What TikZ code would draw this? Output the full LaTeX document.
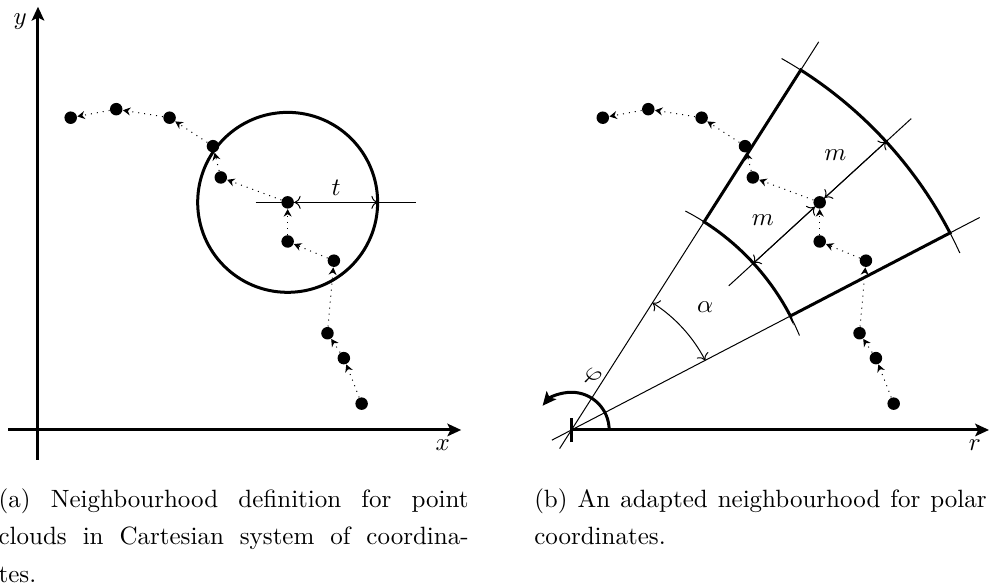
\documentclass[tikz,border=0pt]{standalone}
\usetikzlibrary{arrows.meta,calc}

\begin{document}
\begin{tikzpicture}[
    pnt/.style={circle, fill=black, inner sep=0pt, minimum size=5pt},
    trail/.style={dotted, thin, -{Stealth[length=3pt,width=3.2pt]}},
    bold/.style={line width=1.2pt},
    ax/.style={bold, -{Stealth[length=5.5pt,width=5pt,inset=1.2pt]}},
    meas/.style={thin, <->},
    subcap/.style={inner sep=0pt, anchor=north west, text width=188pt, align=justify,
                font=\fontsize{10}{15}\selectfont}
  ]
  \useasboundingbox (-0.534,-2.207) rectangle (13.384,6.045);

  % ---------- points (same track in both panels) --------------------------
  \foreach \i/\x/\y in {1/0.46/4.39, 2/1.10/4.51, 3/1.85/4.39, 4/2.46/3.99,
                        5/2.57/3.55, 6/3.51/3.20, 7/3.51/2.65, 8/4.16/2.38,
                        9/4.07/1.36, 10/4.30/1.01, 11/4.55/0.37}{
    \node[pnt] (a\i) at (\x,\y) {};
    \node[pnt] (b\i) at (\x+7.48,\y) {};
  }
  \foreach \i [count=\j from 2] in {1,...,10}{
    \draw[trail] (a\j) -- (a\i);
    \draw[trail] (b\j) -- (b\i);
  }

  % ---------- (a) cartesian -----------------------------------------------
  \draw[ax] (0,-0.42) -- (0,5.95);
  \draw[ax] (-0.42,0) -- (5.95,0);
  \node (ylab) at (-0.25,5.74) {$y$};
  \node (xlab) at (5.69,-0.21) {$x$};

  \draw[bold] (a6.center) circle[radius=1.265];
  \coordinate (tl)  at ($(a6.center)+(-0.45,0)$);
  \coordinate (tr)  at ($(a6.center)+(1.8,0)$);
  \coordinate (rim) at ($(a6.center)+(1.265,0)$);
  \draw[thin] (tl) -- (tr);
  \draw[meas] (a6) -- (rim);
  \node (tlab) at (4.19,3.40) {$t$};

  % ---------- (b) polar ---------------------------------------------------
  \begin{scope}[shift={(7.5,0)}]
    % thin guide lines run a little past the cell
    \draw[thin] (207.5:0.31) -- (27.5:6.47);
    \draw[thin] (237.5:0.31) -- (57.5:6.47);
    \draw[thin] (22.5:3.47) arc[start angle=22.5, end angle=62.5, radius=3.47];
    \draw[thin] (24.5:6) arc[start angle=24.5, end angle=60.5, radius=6];
    \draw[bold] (27.5:3.47) -- (27.5:6) arc[start angle=27.5, end angle=57.5, radius=6]
          -- (57.5:3.47) arc[start angle=57.5, end angle=27.5, radius=3.47] -- cycle;

    \draw[thin] (42.5:3.0) -- (42.5:6.48);
    \coordinate (inn) at (42.5:3.47);
    \coordinate (out) at (42.5:6);
    \draw[meas] (b6) -- (out);
    \draw[meas] (b6) -- (inn);
    \node (m1) at (3.71,3.87) {$m$};
    \node (m2) at (2.69,2.95) {$m$};

    \draw[meas] (57.5:2.12) arc[start angle=57.5, end angle=27.5, radius=2.12];
    \node (alab) at (42.5:2.55) {$\alpha$};

    \draw[ax] (0,0) -- (5.87,0);
    \draw[bold] (0,-0.17) -- (0,0.17);
    \draw[ax] (0:0.53) arc[start angle=0, end angle=140, radius=0.53];
    \node[rotate=-30] (plab) at (0.29,0.75) {$\varphi$};
    \node (rlab) at (5.67,-0.21) {$r$};
  \end{scope}

  % ---------- captions ----------------------------------------------------
  \node[subcap] (capa) at (-0.56,-0.815)
    {(a) Neighbourhood definition for point\linebreak clouds in Cartesian system of coordina-\linebreak tes.};
  \node[subcap, text width=181pt] (capb) at (6.97,-0.815)
    {(b) An adapted neighbourhood for polar\linebreak coordinates.};

\end{tikzpicture}
\end{document}
